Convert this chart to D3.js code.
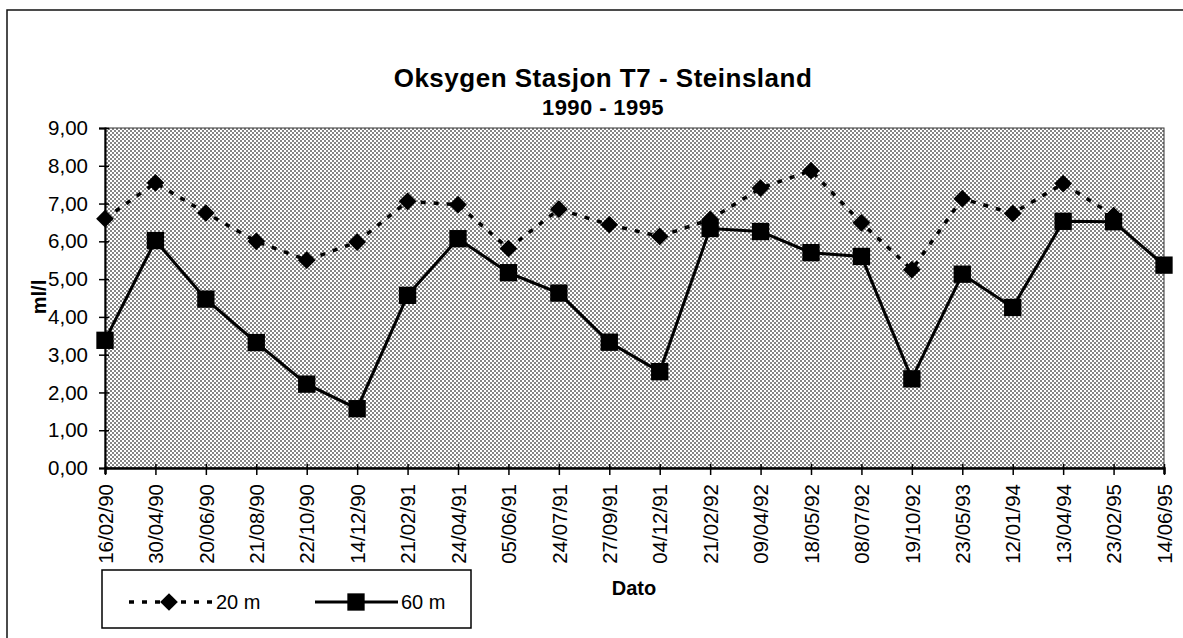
<!DOCTYPE html>
<html>
<head>
<meta charset="utf-8">
<script src="https://cdn.jsdelivr.net/npm/d3@7"></script>
<style>
  body { margin: 0; background: #fff; }
  svg { font-family: "Liberation Sans", Arial, sans-serif; }
</style>
</head>
<body>
<div id="chart"></div>
<script>
// data
var dates = ["16/02/90", "30/04/90", "20/06/90", "21/08/90", "22/10/90", "14/12/90",
             "21/02/91", "24/04/91", "05/06/91", "24/07/91", "27/09/91", "04/12/91",
             "21/02/92", "09/04/92", "18/05/92", "08/07/92", "19/10/92", "23/05/93",
             "12/01/94", "13/04/94", "23/02/95", "14/06/95"];
var oxy20 = [6.60, 7.55, 6.75, 6.00, 5.50, 5.98, 7.06, 6.97, 5.81, 6.85, 6.44, 6.13,
             6.58, 7.41, 7.87, 6.49, 5.25, 7.13, 6.74, 7.53, 6.68, null];
var oxy60 = [3.38, 6.02, 4.47, 3.32, 2.22, 1.57, 4.57, 6.07, 5.17, 4.63, 3.33, 2.55,
             6.34, 6.26, 5.70, 5.60, 2.36, 5.13, 4.25, 6.53, 6.52, 5.37];
var yTicks = [0, 1, 2, 3, 4, 5, 6, 7, 8, 9];

var width = 1183,
    height = 638;
var plot = { left: 105, right: 1164, top: 128, bottom: 468 };
var tickFont = 20.5;

var svg = d3.select("#chart")
  .append("svg")
    .attr("width", width)
    .attr("height", height);

// halftone background of the plot area
var defs = svg.append("defs");
var pat = defs.append("pattern")
    .attr("id", "dots")
    .attr("patternUnits", "userSpaceOnUse")
    .attr("width", 4)
    .attr("height", 4);
pat.append("rect").attr("width", 4).attr("height", 4).attr("fill", "#fff");
pat.append("rect").attr("width", 2).attr("height", 2).attr("fill", "#858585");
pat.append("rect").attr("x", 2).attr("y", 2).attr("width", 2).attr("height", 2).attr("fill", "#858585");

// outer frame (cut off at right/bottom in the scan)
svg.append("rect")
  .attr("x", 7)
  .attr("y", 10)
  .attr("width", 1200)
  .attr("height", 700)
  .attr("fill", "none")
  .attr("stroke", "#111")
  .attr("stroke-width", 1.5);

var x = d3.scalePoint()
  .domain(dates)
  .range([plot.left, plot.right]);
var y = d3.scaleLinear()
  .domain([0, 9])
  .range([plot.bottom, plot.top]);

svg.append("rect")
  .attr("x", plot.left)
  .attr("y", plot.top)
  .attr("width", plot.right - plot.left)
  .attr("height", plot.bottom - plot.top)
  .attr("fill", "url(#dots)")
  .attr("stroke", "#333")
  .attr("stroke-width", 1);

// title
svg.append("text")
  .attr("x", 603)
  .attr("y", 87)
  .attr("text-anchor", "middle")
  .attr("font-size", 26)
  .attr("letter-spacing", 0.5)
  .attr("font-weight", "bold")
  .text("Oksygen Stasjon T7 - Steinsland");
svg.append("text")
  .attr("x", 603)
  .attr("y", 115)
  .attr("text-anchor", "middle")
  .attr("font-size", 22)
  .attr("letter-spacing", 0.4)
  .attr("font-weight", "bold")
  .text("1990 - 1995");

// y axis
var yAxis = svg.append("g")
  .attr("transform", "translate(" + plot.left + ",0)")
  .call(d3.axisLeft(y)
    .tickValues(yTicks)
    .tickSize(6)
    .tickPadding(11)
    .tickFormat(function(d) { return d3.format(".2f")(d).replace(".", ","); }));
yAxis.selectAll("text")
  .attr("font-size", tickFont)
  .attr("fill", "#000")
  .attr("font-family", "Liberation Sans, Arial");
yAxis.selectAll(".tick line").attr("x2", -6).attr("x1", 4).attr("stroke", "#000").attr("stroke-width", 1.5);
yAxis.select(".domain").attr("stroke", "#000").attr("stroke-width", 2);

// x axis
var xAxis = svg.append("g")
  .attr("transform", "translate(0," + plot.bottom + ")")
  .call(d3.axisBottom(x).tickSize(6).tickPadding(8));
xAxis.selectAll(".tick line").attr("y1", -4).attr("y2", 7).attr("stroke", "#000").attr("stroke-width", 1.5);
xAxis.select(".domain").attr("stroke", "#000").attr("stroke-width", 2.5);
xAxis.selectAll("text")
  .attr("font-size", tickFont)
  .attr("fill", "#000")
  .attr("font-family", "Liberation Sans, Arial")
  .attr("transform", "rotate(-90)")
  .attr("text-anchor", "end")
  .attr("dy", "0.35em")
  .attr("x", -16)
  .attr("y", 0);

// axis titles
svg.append("text")
  .attr("transform", "translate(46,297) rotate(-90)")
  .attr("text-anchor", "middle")
  .attr("font-size", 20)
  .attr("font-weight", "bold")
  .text("ml/l");
svg.append("text")
  .attr("x", 634)
  .attr("y", 595)
  .attr("text-anchor", "middle")
  .attr("font-size", 20)
  .attr("font-weight", "bold")
  .text("Dato");

// series
var line = d3.line()
  .defined(function(d) { return d != null; })
  .x(function(d, i) { return x(dates[i]); })
  .y(function(d) { return y(d); });

svg.append("path")
  .datum(oxy20)
  .attr("d", line)
  .attr("fill", "none")
  .attr("stroke", "#000")
  .attr("stroke-width", 3.5)
  .attr("stroke-dasharray", "5,8");
svg.append("path")
  .datum(oxy60)
  .attr("d", line)
  .attr("fill", "none")
  .attr("stroke", "#000")
  .attr("stroke-width", 3);

var diamond = d3.symbol().type(d3.symbolDiamond2).size(200);
var square = d3.symbol().type(d3.symbolSquare).size(300);

svg.selectAll("path.m20")
  .data(oxy20.map(function(v, i) { return { v: v, d: dates[i] }; }).filter(function(p) { return p.v != null; }))
  .enter()
    .append("path")
    .attr("class", "m20")
    .attr("d", diamond)
    .attr("transform", function(p) { return "translate(" + x(p.d) + "," + y(p.v) + ")"; })
    .attr("fill", "#000");

svg.selectAll("path.m60")
  .data(oxy60.map(function(v, i) { return { v: v, d: dates[i] }; }))
  .enter()
    .append("path")
    .attr("class", "m60")
    .attr("d", square)
    .attr("transform", function(p) { return "translate(" + x(p.d) + "," + y(p.v) + ")"; })
    .attr("fill", "#000");

// legend
var legend = svg.append("g");
legend.append("rect")
  .attr("x", 102)
  .attr("y", 570)
  .attr("width", 369)
  .attr("height", 58)
  .attr("fill", "#fff")
  .attr("stroke", "#000")
  .attr("stroke-width", 1.5);
legend.append("line")
  .attr("x1", 129).attr("x2", 212).attr("y1", 602).attr("y2", 602)
  .attr("stroke", "#000").attr("stroke-width", 3.5).attr("stroke-dasharray", "5,8");
legend.append("path")
  .attr("d", diamond)
  .attr("transform", "translate(169,602)");
legend.append("text")
  .attr("x", 216).attr("y", 609)
  .attr("font-size", 20)
  .text("20 m");
legend.append("line")
  .attr("x1", 315).attr("x2", 398).attr("y1", 602).attr("y2", 602)
  .attr("stroke", "#000").attr("stroke-width", 3);
legend.append("path")
  .attr("d", square)
  .attr("transform", "translate(356,602)");
legend.append("text")
  .attr("x", 401).attr("y", 609)
  .attr("font-size", 20)
  .text("60 m");
</script>
</body>
</html>
